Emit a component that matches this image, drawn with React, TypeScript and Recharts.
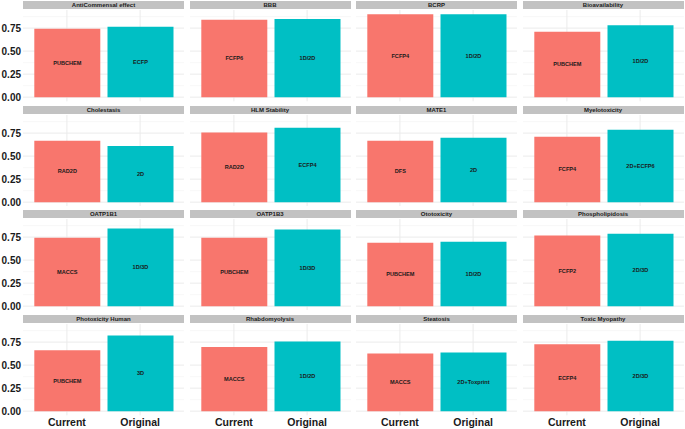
import React from 'react';
import { BarChart, Bar, XAxis, YAxis, CartesianGrid, Cell, LabelList } from 'recharts';

const categories = ['Current', 'Original'];

const panelTitles = [
  'AntiCommensal effect', 'BBB', 'BCRP', 'Bioavailability',
  'Cholestasis', 'HLM Stability', 'MATE1', 'Myelotoxicity',
  'OATP1B1', 'OATP1B3', 'Ototoxicity', 'Phospholipidosis',
  'Photoxicity Human', 'Rhabdomyolysis', 'Steatosis', 'Toxic Myopathy',
];

const currentScores = [
  0.742, 0.84, 0.902, 0.71,
  0.667, 0.758, 0.667, 0.711,
  0.742, 0.742, 0.688, 0.768,
  0.663, 0.696, 0.627, 0.728,
];

const originalScores = [
  0.764, 0.85, 0.9, 0.782,
  0.609, 0.808, 0.7, 0.787,
  0.844, 0.833, 0.699, 0.786,
  0.823, 0.758, 0.638, 0.765,
];

const currentFingerprints = [
  'PUBCHEM', 'FCFP6', 'FCFP4', 'PUBCHEM',
  'RAD2D', 'RAD2D', 'DFS', 'FCFP4',
  'MACCS', 'PUBCHEM', 'PUBCHEM', 'FCFP2',
  'PUBCHEM', 'MACCS', 'MACCS', 'ECFP4',
];

const originalFingerprints = [
  'ECFP', '1D/2D', '1D/2D', '1D/2D',
  '2D', 'ECFP4', '2D', '2D+ECFP6',
  '1D/3D', '1D/3D', '1D/2D', '2D/3D',
  '3D', '1D/2D', '2D+Toxprint', '2D/3D',
];

const yTicks = [0, 0.25, 0.5, 0.75];
const yMinorTicks = [0.125, 0.375, 0.625, 0.875];

const COLORS = ['#F8766D', '#00BFC4'];
const FONT = '"Liberation Sans", Arial, Helvetica, sans-serif';
const Y_DOMAIN: [number, number] = [-0.045, 0.947];

const PLOT_W = 161;
const PLOT_H = 91.3;
const COL_LEFT = [23, 189.5, 356, 522.5];
const ROW_TOP = [10.4, 114.6, 218.9, 323.5];
const Y_AXIS_W = 23;
const X_AXIS_H = 20;

const Panel: React.FC<{ idx: number }> = ({ idx }) => {
  const row = Math.floor(idx / 4);
  const col = idx % 4;
  const showY = col === 0;
  const showX = row === 3;

  const data = categories.map((category, k) => ({
    category,
    score: k === 0 ? currentScores[idx] : originalScores[idx],
    fingerprint: k === 0 ? currentFingerprints[idx] : originalFingerprints[idx],
  }));

  const left = COL_LEFT[col] - (showY ? Y_AXIS_W : 0);
  const width = PLOT_W + (showY ? Y_AXIS_W : 0);
  const height = PLOT_H + (showX ? X_AXIS_H : 0);

  return (
    <>
      <div
        style={{
          position: 'absolute',
          left: COL_LEFT[col],
          top: ROW_TOP[row] - 9,
          width: PLOT_W,
          height: 8,
          background: '#C2C2C2',
          color: '#1a1a1a',
          fontFamily: FONT,
          fontWeight: 'bold',
          fontSize: 6,
          lineHeight: '8px',
          textAlign: 'center',
          whiteSpace: 'nowrap',
        }}
      >
        {panelTitles[idx]}
      </div>
      <div style={{ position: 'absolute', left, top: ROW_TOP[row] }}>
        <BarChart
          width={width}
          height={height}
          data={data}
          margin={{ top: 0, right: 0, bottom: 0, left: 0 }}
          style={{ overflow: 'visible' }}
        >
          <CartesianGrid yAxisId="minor" vertical={false} syncWithTicks stroke="#F3F3F3" strokeWidth={0.6} />
          <CartesianGrid syncWithTicks stroke="#EBEBEB" strokeWidth={1} />
          <XAxis
            dataKey="category"
            hide={!showX}
            height={X_AXIS_H}
            padding={{ left: 7.3, right: 7.3 }}
            axisLine={false}
            tickLine={false}
            tickSize={0}
            tickMargin={3}
            interval={0}
            tick={{ fontSize: 10.5, fontWeight: 'bold', fill: '#1a1a1a', fontFamily: FONT }}
          />
          <YAxis
            domain={Y_DOMAIN}
            allowDataOverflow
            ticks={yTicks}
            interval={0}
            hide={!showY}
            width={Y_AXIS_W}
            axisLine={false}
            tickLine={false}
            tickSize={0}
            tickMargin={2}
            tickFormatter={(v: number) => v.toFixed(2)}
            tick={{ fontSize: 10, fontWeight: 'bold', fill: '#1a1a1a', fontFamily: FONT }}
          />
          <YAxis yAxisId="minor" domain={Y_DOMAIN} allowDataOverflow ticks={yMinorTicks} hide />
          <Bar dataKey="score" barSize={66} isAnimationActive={false}>
            {data.map((entry, i) => (
              <Cell key={`cell-${entry.category}`} fill={COLORS[i]} />
            ))}
            <LabelList
              dataKey="fingerprint"
              position="center"
              style={{ fontSize: 5.6, fontWeight: 'bold', fill: '#1a1a1a', fontFamily: FONT }}
            />
          </Bar>
        </BarChart>
      </div>
    </>
  );
};

export default function App() {
  return (
    <div style={{ position: 'absolute', left: 0, top: 0, width: 685, height: 429, background: '#fff' }}>
      {panelTitles.map((t, i) => (
        <Panel key={t} idx={i} />
      ))}
    </div>
  );
}
